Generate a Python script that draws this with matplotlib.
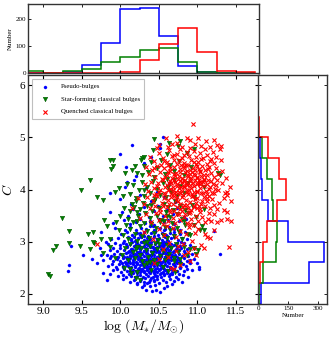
import matplotlib
matplotlib.use("Agg")
import matplotlib.pyplot as plt
import numpy as np

# fonts / tick style
plt.rcParams['font.family'] = ['Liberation Serif', 'DejaVu Serif']
plt.rcParams['mathtext.fontset'] = 'cm'
plt.rcParams['xtick.direction'] = 'in'
plt.rcParams['ytick.direction'] = 'in'

labels = ['Pseudo-bulges', 'Star-forming classical bulges', 'Quenched classical bulges']

# scatter points (log M*, C)
pseudo_pts = [
    # y < 2.3
    (10.28,2.12),(10.33,2.07),(10.39,2.14),(10.41,2.05),(10.46,2.06),(10.52,2.04),(10.56,2.11),(10.31,2.16),
    (10.22,2.18),(10.45,2.17),(10.61,2.15),(10.67,2.19),
    (10.12,2.22),(10.18,2.26),(10.21,2.21),(10.27,2.28),(10.3,2.23),(10.35,2.2),(10.38,2.27),(10.43,2.24),
    (10.48,2.29),(10.5,2.21),(10.55,2.26),(10.59,2.23),(10.64,2.28),(10.7,2.25),(10.8,2.22),(9.82,2.27),
    (10.04,2.29),(10.4,2.3),(10.25,2.25),(10.75,2.29),
    # 2.3 - 2.4
    (9.86,2.37),(9.97,2.33),(10.03,2.36),(10.07,2.31),(10.11,2.38),(10.14,2.34),(10.19,2.32),(10.22,2.39),
    (10.26,2.35),(10.29,2.31),(10.33,2.37),(10.36,2.33),(10.39,2.39),(10.42,2.32),(10.45,2.36),(10.48,2.34),
    (10.51,2.38),(10.53,2.31),(10.57,2.35),(10.6,2.39),(10.63,2.33),(10.67,2.37),(10.72,2.32),(10.76,2.38),
    (10.81,2.35),(10.88,2.32),(10.16,2.4),(10.44,2.4),
    # 2.4 - 2.5
    (9.32,2.43),(9.9,2.46),(9.96,2.48),(10.01,2.42),(10.05,2.47),(10.09,2.44),(10.12,2.49),(10.15,2.41),
    (10.17,2.46),(10.2,2.43),(10.23,2.48),(10.26,2.42),(10.28,2.47),(10.31,2.44),(10.34,2.49),(10.37,2.41),
    (10.4,2.46),(10.42,2.43),(10.45,2.48),(10.47,2.42),(10.5,2.45),(10.53,2.49),(10.55,2.41),(10.58,2.46),
    (10.61,2.43),(10.64,2.48),(10.67,2.42),(10.7,2.47),(10.74,2.44),(10.78,2.49),(10.83,2.43),(10.87,2.47),
    (10.93,2.45),(11.02,2.48),(10.35,2.45),(10.56,2.47),(9.77,2.4),
    # 2.5 - 2.6
    (9.33,2.55),(9.84,2.53),(9.89,2.57),(9.94,2.51),(9.98,2.56),(10.02,2.59),(10.04,2.52),(10.07,2.57),
    (10.1,2.54),(10.12,2.59),(10.14,2.51),(10.17,2.56),(10.19,2.53),(10.21,2.58),(10.24,2.5),(10.26,2.55),
    (10.28,2.59),(10.3,2.52),(10.33,2.57),(10.35,2.54),(10.37,2.59),(10.39,2.51),(10.41,2.56),(10.44,2.53),
    (10.46,2.58),(10.48,2.5),(10.51,2.55),(10.53,2.59),(10.55,2.52),(10.58,2.57),(10.6,2.54),(10.63,2.59),
    (10.65,2.51),(10.68,2.56),(10.71,2.53),(10.74,2.58),(10.77,2.52),(10.81,2.56),(10.85,2.53),(10.9,2.58),
    (11.0,2.58),(11.02,2.51),(9.7,2.58),
    # 2.6 - 2.7
    (9.63,2.66),(9.78,2.64),(9.86,2.68),(9.91,2.62),(9.96,2.67),(9.99,2.63),(10.03,2.69),(10.06,2.61),
    (10.08,2.66),(10.11,2.62),(10.13,2.68),(10.16,2.64),(10.18,2.69),(10.2,2.61),(10.23,2.66),(10.25,2.63),
    (10.27,2.68),(10.29,2.6),(10.32,2.65),(10.34,2.69),(10.36,2.62),(10.38,2.67),(10.4,2.64),(10.43,2.69),
    (10.45,2.61),(10.47,2.66),(10.49,2.63),(10.52,2.68),(10.54,2.6),(10.56,2.65),(10.59,2.69),(10.61,2.62),
    (10.63,2.67),(10.66,2.64),(10.69,2.69),(10.72,2.61),(10.75,2.66),(10.78,2.63),(10.82,2.68),(10.86,2.62),
    (10.9,2.64),(10.95,2.67),(10.42,2.6),(10.58,2.7),
    # 2.7 - 2.8
    (9.52,2.74),(9.75,2.74),(9.82,2.75),(9.88,2.72),(9.92,2.77),(9.97,2.71),(10.0,2.76),(10.04,2.73),
    (10.07,2.78),(10.09,2.7),(10.12,2.75),(10.14,2.79),(10.17,2.72),(10.19,2.77),(10.21,2.74),(10.24,2.79),
    (10.26,2.71),(10.28,2.76),(10.31,2.73),(10.33,2.78),(10.35,2.7),(10.37,2.75),(10.4,2.72),(10.42,2.77),
    (10.44,2.74),(10.46,2.79),(10.48,2.71),(10.51,2.76),(10.53,2.73),(10.55,2.78),(10.58,2.7),(10.6,2.75),
    (10.62,2.72),(10.65,2.77),(10.67,2.74),(10.7,2.79),(10.73,2.71),(10.76,2.76),(10.8,2.73),(10.84,2.78),
    (10.88,2.72),(10.93,2.76),(11.29,2.77),(10.5,2.8),
    # 2.8 - 2.9
    (9.86,2.84),(9.91,2.88),(9.96,2.82),(10.0,2.87),(10.05,2.83),(10.08,2.89),(10.11,2.81),(10.14,2.86),
    (10.17,2.83),(10.2,2.88),(10.22,2.8),(10.25,2.85),(10.28,2.89),(10.3,2.82),(10.33,2.87),(10.35,2.84),
    (10.38,2.89),(10.4,2.81),(10.43,2.86),(10.45,2.83),(10.48,2.88),(10.5,2.8),(10.53,2.85),(10.55,2.89),
    (10.58,2.82),(10.6,2.87),(10.63,2.84),(10.66,2.89),(10.69,2.81),(10.72,2.86),(10.75,2.83),(10.79,2.88),
    (10.83,2.82),(10.87,2.86),(10.95,2.87),(10.27,2.9),(10.47,2.9),(10.62,2.8),(9.73,2.88),
    # 2.9 - 3.0
    (9.36,2.92),(9.84,2.95),(9.93,2.98),(9.99,2.93),(10.04,2.97),(10.08,2.91),(10.12,2.96),(10.15,2.99),
    (10.18,2.92),(10.21,2.97),(10.24,2.94),(10.27,2.99),(10.3,2.91),(10.33,2.96),(10.36,2.93),(10.39,2.98),
    (10.42,2.9),(10.45,2.95),(10.48,2.99),(10.51,2.92),(10.54,2.97),(10.57,2.94),(10.6,2.99),(10.63,2.91),
    (10.66,2.96),(10.7,2.93),(10.74,2.98),(10.78,2.92),(10.82,2.97),(10.9,2.93),(10.56,3.0),(10.36,3.0),
    # 3.0 - 3.1
    (9.88,3.04),(9.97,3.07),(10.05,3.02),(10.1,3.08),(10.14,3.05),(10.19,3.01),(10.23,3.06),(10.27,3.09),
    (10.31,3.03),(10.35,3.07),(10.39,3.04),(10.43,3.09),(10.47,3.01),(10.5,3.06),(10.54,3.03),(10.58,3.08),
    (10.62,3.02),(10.66,3.06),(10.7,3.09),(10.75,3.03),(10.8,3.07),(10.86,3.04),(10.44,3.1),(10.6,3.1),
    (9.81,3.0),
    # 3.1 - 3.3
    (9.75,3.18),(10.01,3.14),(10.08,3.19),(10.15,3.12),(10.21,3.17),(10.26,3.13),(10.31,3.18),(10.36,3.11),
    (10.4,3.16),(10.45,3.19),(10.49,3.13),(10.54,3.17),(10.59,3.12),(10.64,3.16),(10.7,3.19),(10.77,3.14),
    (10.84,3.18),(11.22,3.2),
    (9.93,3.26),(10.06,3.23),(10.13,3.28),(10.2,3.22),(10.27,3.27),(10.33,3.24),(10.39,3.29),(10.45,3.21),
    (10.51,3.26),(10.57,3.23),(10.63,3.28),(10.7,3.25),(10.78,3.22),(10.42,3.3),
    # 3.3 - 3.7
    (9.9,3.36),(10.05,3.41),(10.12,3.33),(10.2,3.38),(10.26,3.44),(10.32,3.35),(10.38,3.4),(10.44,3.32),
    (10.5,3.43),(10.56,3.37),(10.62,3.42),(10.69,3.34),(10.76,3.39),(10.85,3.44),
    (9.86,3.56),(10.02,3.56),(10.1,3.49),(10.17,3.62),(10.24,3.52),(10.3,3.66),(10.37,3.47),(10.43,3.58),
    (10.49,3.68),(10.55,3.5),(10.61,3.6),(10.68,3.53),(10.74,3.65),(10.82,3.48),
    # sparse upper part
    (9.87,3.94),(9.99,3.81),(10.06,4.05),(10.09,4.15),(10.18,4.18),(10.2,4.26),(10.14,3.72),(10.25,3.9),
    (10.33,4.02),(10.4,3.78),(10.48,3.95),(10.56,3.85),(10.63,4.12),(10.71,3.76),
    (10.07,4.44),(9.99,4.68),(10.15,4.85),(10.52,4.79),(10.52,4.88),(10.55,5.0),(10.3,4.5),(10.4,4.62),
    # dense core
    (10.17,2.615),(10.23,2.705),(10.29,2.545),(10.31,2.825),(10.36,2.475),(10.38,2.735),(10.41,2.905),(10.43,2.585),
    (10.47,2.695),(10.49,2.825),(10.52,2.475),(10.54,2.935),(10.57,2.625),(10.61,2.755),(10.64,2.515),(10.2,2.955),
    (10.25,2.465),(10.27,2.785),(10.33,2.635),(10.39,2.525),(10.44,2.815),(10.46,2.345),(10.51,2.615),(10.56,2.385),
    (10.59,2.865),(10.66,2.695),(10.12,2.725),(10.15,2.855),(10.08,2.595),(10.22,2.345),(10.3,2.415),(10.34,3.015),
    (10.4,2.985),(10.48,3.045),(10.53,2.725),(10.6,2.455),(10.63,2.935),(10.68,2.805),(10.7,2.575),(10.73,2.905),
    (10.19,2.505),(10.24,2.885),(10.28,2.995),(10.35,2.775),(10.42,2.665),(10.45,2.435),(10.5,2.915),(10.55,2.535),
    (10.58,2.785),(10.62,2.605),(10.65,2.375),(10.71,2.745),(10.76,2.845),(10.1,2.805),(10.13,2.435),(10.05,2.705),
    (10.18,3.085),(10.26,3.155),(10.32,2.295),(10.37,2.215),(10.43,2.255),(10.55,3.145),(10.47,2.555),(10.41,2.765),
    (10.36,2.925),(10.29,2.655),(10.21,2.575),(10.16,2.765),(10.5,2.715),(10.57,2.965),(10.64,2.845),(10.67,2.465),
    (10.39,2.615),(10.33,2.505),(10.25,2.795),(10.46,2.875),(10.53,2.405),(10.61,3.035),(10.74,2.645),(10.79,2.985),
    (10.07,2.945),(10.03,2.525),(10.14,3.035),(10.31,3.115),(10.44,3.215),(10.58,3.245),(10.69,3.125),(10.35,2.565),
    (10.48,2.645),(10.27,2.425),
]

sf_pts = [
    # low tail
    (9.06,2.37),(9.08,2.33),(10.14,2.39),(10.22,2.41),(10.05,2.5),(10.12,2.48),(10.3,2.55),(10.4,2.45),
    (10.55,2.52),(10.62,2.44),(10.71,2.42),(10.78,2.57),(10.35,2.58),(10.48,2.56),(10.2,2.3),(10.26,2.27),
    # 2.6 - 3.0
    (9.13,2.83),(9.17,2.92),(9.33,2.97),(9.47,2.91),(9.61,2.85),(9.66,2.98),(9.78,2.78),(9.86,2.9),
    (9.93,2.68),(10.02,2.75),(10.06,2.88),(10.1,2.64),(10.13,2.95),(10.16,2.79),(10.19,2.68),(10.22,2.9),
    (10.25,2.74),(10.28,2.62),(10.3,2.97),(10.33,2.83),(10.36,2.7),(10.39,2.92),(10.41,2.78),(10.44,2.65),
    (10.47,2.86),(10.5,2.96),(10.52,2.72),(10.55,2.81),(10.58,2.64),(10.61,2.93),(10.63,2.77),(10.66,2.87),
    (10.69,2.69),(10.72,2.95),(10.75,2.8),(10.78,2.66),(10.82,2.9),(10.86,2.74),(10.91,2.85),(10.96,2.87),
    (10.98,2.76),(11.01,2.84),(10.27,2.87),(10.45,2.98),(10.6,2.7),(10.38,2.61),(10.7,2.62),(10.2,2.85),
    # 3.0 - 3.4
    (9.33,3.2),(9.58,3.14),(9.64,3.19),(9.64,3.0),(9.75,3.05),(9.87,3.04),(9.94,3.37),(9.98,3.22),
    (9.83,3.3),(10.03,3.12),(10.07,3.31),(10.1,3.05),(10.13,3.24),(10.16,3.38),(10.19,3.15),(10.22,3.02),
    (10.25,3.29),(10.28,3.11),(10.31,3.36),(10.34,3.2),(10.37,3.07),(10.4,3.33),(10.43,3.16),(10.46,3.26),
    (10.49,3.03),(10.52,3.38),(10.55,3.13),(10.58,3.28),(10.61,3.06),(10.64,3.22),(10.67,3.35),(10.7,3.1),
    (10.73,3.27),(10.76,3.18),(10.8,3.04),(10.84,3.32),(10.88,3.14),(10.9,3.12),(10.96,3.32),(11.03,3.22),
    (11.06,3.29),(11.08,3.22),(10.35,3.0),(10.57,3.4),(10.21,3.4),(10.82,3.39),
    # 3.4 - 3.8
    (9.24,3.46),(9.79,3.41),(9.78,3.8),(10.0,3.5),(10.05,3.65),(10.1,3.44),(10.12,3.58),(10.15,3.72),
    (10.18,3.66),(10.2,3.78),(10.23,3.49),(10.26,3.62),(10.29,3.75),(10.32,3.54),(10.35,3.68),(10.38,3.45),
    (10.41,3.59),(10.44,3.77),(10.47,3.5),(10.5,3.64),(10.53,3.42),(10.56,3.73),(10.59,3.56),(10.62,3.67),
    (10.65,3.47),(10.68,3.6),(10.71,3.78),(10.74,3.52),(10.77,3.69),(10.8,3.44),(10.84,3.61),(10.88,3.55),
    (10.93,3.71),(10.98,3.48),(11.09,3.62),(10.4,3.7),(10.6,3.5),(10.22,3.56),
    # 3.8 - 4.2
    (9.49,4.0),(9.61,4.19),(9.7,3.85),(9.98,4.03),(10.09,4.1),(9.93,3.95),(10.04,3.88),(10.12,3.92),
    (10.16,4.08),(10.2,3.84),(10.24,3.99),(10.28,4.15),(10.31,3.87),(10.35,4.04),(10.38,3.93),(10.42,4.17),
    (10.45,3.82),(10.48,4.01),(10.52,3.9),(10.55,4.12),(10.59,3.85),(10.62,4.05),(10.66,3.96),(10.7,4.18),
    (10.74,3.88),(10.78,4.07),(10.83,3.94),(10.88,4.13),(10.95,3.86),(11.08,4.05),(10.6,4.2),(10.3,4.0),
    # 4.2 - 5.0
    (9.88,4.39),(9.91,4.46),(10.06,4.31),(10.15,4.38),(10.19,4.46),(10.22,4.31),(10.28,4.28),(10.28,4.6),
    (10.31,4.45),(10.36,4.34),(10.4,4.52),(10.44,4.25),(10.48,4.41),(10.53,4.56),(10.58,4.3),(10.64,4.47),
    (10.7,4.36),(10.76,4.54),(10.83,4.27),(10.92,4.44),(11.29,4.27),(11.27,4.32),
    (9.87,4.57),(9.9,4.57),(10.27,4.56),(10.31,4.62),(10.42,4.75),(10.43,4.97),(10.63,4.9),(10.75,4.84),
    (10.78,4.94),(10.6,4.68),(10.86,4.7),(10.95,4.78),
]

quenched_pts = [
    # top
    (10.94,5.26),(10.73,5.02),(10.86,4.99),(10.9,4.95),(11.01,4.99),(11.11,4.93),(11.22,4.95),(11.25,4.86),
    (10.59,4.99),(10.67,4.88),(10.73,4.9),(10.5,4.85),(10.8,4.82),(10.97,4.87),(11.05,4.84),(11.16,4.81),
    (11.31,4.83),(10.62,4.82),
    # 4.5 - 4.8
    (10.38,4.62),(10.44,4.55),(10.5,4.71),(10.55,4.6),(10.6,4.52),(10.63,4.75),(10.67,4.64),(10.7,4.56),
    (10.73,4.69),(10.77,4.78),(10.8,4.6),(10.83,4.51),(10.86,4.72),(10.89,4.65),(10.92,4.57),(10.95,4.74),
    (10.98,4.62),(11.01,4.53),(11.04,4.7),(11.07,4.6),(11.1,4.77),(11.13,4.66),(11.16,4.55),(11.2,4.72),
    (11.24,4.62),(11.29,4.78),(11.31,4.56),(10.47,4.8),(10.9,4.8),(11.18,4.58),
    # 4.2 - 4.5
    (10.33,4.44),(10.37,4.3),(10.41,4.38),(10.45,4.24),(10.48,4.46),(10.51,4.33),(10.54,4.21),(10.57,4.41),
    (10.6,4.28),(10.62,4.48),(10.65,4.36),(10.67,4.23),(10.7,4.43),(10.72,4.31),(10.74,4.49),(10.76,4.26),
    (10.78,4.39),(10.8,4.22),(10.82,4.45),(10.84,4.34),(10.86,4.27),(10.88,4.47),(10.9,4.37),(10.92,4.23),
    (10.94,4.42),(10.96,4.3),(10.98,4.49),(11.0,4.25),(11.02,4.4),(11.04,4.33),(11.06,4.46),(11.08,4.21),
    (11.1,4.37),(11.12,4.28),(11.15,4.44),(11.18,4.32),(11.21,4.24),(11.24,4.41),(11.27,4.29),(11.32,4.36),
    (11.37,4.22),(10.69,4.3),(10.83,4.41),(10.97,4.38),(10.58,4.25),(10.75,4.2),(11.13,4.49),(10.91,4.3),
    (10.53,4.47),(10.64,4.42),(10.79,4.47),(11.0,4.45),(11.05,4.26),(10.86,4.35),(10.44,4.42),
    # 3.9 - 4.2
    (10.32,4.1),(10.36,3.97),(10.4,4.15),(10.43,4.02),(10.46,3.92),(10.49,4.12),(10.52,4.0),(10.55,4.18),
    (10.57,3.94),(10.6,4.08),(10.62,3.99),(10.64,4.16),(10.66,3.91),(10.68,4.05),(10.7,4.19),(10.72,3.96),
    (10.74,4.11),(10.76,4.02),(10.78,3.93),(10.8,4.14),(10.82,4.04),(10.84,4.19),(10.86,3.95),(10.87,4.09),
    (10.89,4.0),(10.91,4.16),(10.93,3.92),(10.95,4.07),(10.97,4.18),(10.99,3.98),(11.01,4.12),(11.03,4.03),
    (11.05,3.93),(11.07,4.15),(11.09,4.06),(11.11,3.97),(11.13,4.11),(11.15,4.01),(11.18,4.17),(11.21,3.94),
    (11.24,4.08),(11.27,3.99),(11.32,4.13),(11.38,3.95),(11.42,4.05),(10.73,4.06),(10.85,4.12),(10.92,4.03),
    (11.02,4.18),(10.65,4.01),(10.8,3.98),(10.96,3.96),(11.08,4.19),(10.58,4.05),(10.78,4.17),(11.17,4.04),
    (10.88,3.92),(10.69,3.94),(10.99,4.1),(10.83,4.07),(11.12,3.91),(10.5,3.95),(10.63,4.12),(10.94,4.13),
    (11.2,4.1),(10.76,3.95),(11.04,4.1),(10.9,4.08),(10.71,4.14),(10.47,4.07),
    # 3.6 - 3.9
    (10.15,3.65),(10.23,3.83),(10.3,3.72),(10.34,3.86),(10.38,3.64),(10.42,3.78),(10.45,3.69),(10.48,3.87),
    (10.51,3.62),(10.54,3.75),(10.57,3.84),(10.6,3.67),(10.62,3.79),(10.65,3.61),(10.68,3.73),(10.7,3.88),
    (10.73,3.66),(10.75,3.77),(10.78,3.63),(10.8,3.85),(10.83,3.71),(10.85,3.8),(10.88,3.64),(10.9,3.76),
    (10.93,3.87),(10.95,3.68),(10.98,3.74),(11.0,3.83),(11.03,3.62),(11.05,3.72),(11.08,3.86),(11.1,3.69),
    (11.13,3.78),(11.16,3.65),(11.19,3.81),(11.22,3.7),(11.25,3.63),(11.28,3.75),(11.36,3.94),(11.39,3.89),
    (11.35,3.83),(11.43,3.78),(10.87,3.7),(10.97,3.82),(10.72,3.8),(11.06,3.77),(10.81,3.66),(10.66,3.86),
    (11.15,3.88),(10.92,3.61),(10.55,3.68),(11.02,3.69),(10.77,3.72),(10.99,3.64),(10.44,3.89),
    # 3.3 - 3.6
    (10.25,3.45),(10.33,3.52),(10.4,3.38),(10.46,3.55),(10.5,3.42),(10.55,3.33),(10.58,3.5),(10.62,3.39),
    (10.65,3.57),(10.68,3.45),(10.71,3.35),(10.74,3.53),(10.77,3.41),(10.8,3.58),(10.83,3.47),(10.86,3.36),
    (10.89,3.54),(10.92,3.43),(10.95,3.31),(10.98,3.5),(11.01,3.39),(11.04,3.56),(11.1,3.38),(11.14,3.44),
    (11.18,3.39),(11.26,3.38),(11.3,3.41),(11.34,3.6),(11.39,3.57),(11.39,3.43),(11.43,3.39),(11.22,3.52),
    (10.7,3.58),(10.9,3.33),(11.06,3.47),(10.52,3.57),(10.84,3.52),(11.15,3.55),
    # below 3.3
    (10.3,3.18),(10.42,3.05),(10.5,3.24),(10.57,3.12),(10.63,2.98),(10.68,3.27),(10.72,3.08),(10.77,3.2),
    (10.81,2.95),(10.85,3.14),(10.89,3.28),(10.93,3.02),(10.97,3.17),(11.01,3.25),(11.05,2.93),(11.1,3.14),
    (11.12,3.09),(11.16,3.06),(11.08,2.87),(10.75,2.92),(11.21,3.22),(10.6,3.29),
    (9.7,2.95),(10.96,2.87),(10.98,2.74),(10.82,2.74),(10.88,2.8),(10.69,2.48),(10.66,2.5),(10.44,2.58),
    (10.55,2.85),(10.62,2.7),(10.72,2.82),(10.9,2.62),(11.41,2.9),(10.5,2.66),(10.78,2.55),
    # dense core
    (10.71,4.255),(10.77,4.345),(10.83,4.155),(10.88,4.265),(10.93,4.345),(10.99,4.215),(11.04,4.145),(10.81,3.895),
    (10.87,3.985),(10.94,3.875),(11.0,3.945),(10.68,3.985),(10.74,3.865),(10.79,4.045),(10.91,4.205),(10.97,4.285),
    (11.03,4.355),(11.09,4.285),(11.14,4.175),(10.62,4.345),(10.66,4.125),(10.85,4.465),(10.95,4.525),(11.05,4.585),
    (10.76,4.575),(10.69,4.665),(10.82,4.655),(11.12,3.835),(11.19,3.935),(11.07,3.925),(10.9,3.575),(10.96,3.655),
    (10.76,3.535),(10.63,3.725),(10.58,3.905),(11.23,4.015),(11.26,4.185),(11.14,4.395),(11.22,4.515),(10.56,4.555),
]

# marginal histograms (counts)
mass_edges = [8.75, 9.0, 9.25, 9.5, 9.75, 10.0, 10.25, 10.5, 10.75, 11.0, 11.25, 11.5, 11.75]
mass_pseudo = [0, 1, 3, 31, 112, 238, 241, 137, 25, 3, 0, 0]
mass_sf = [6, 1, 9, 14, 40, 59, 87, 91, 40, 5, 0, 0]
mass_q = [0, 0, 0, 0, 1, 5, 47, 106, 168, 78, 9, 2]

c_edges = [1.8, 2.2, 2.6, 3.0, 3.4, 3.8, 4.2, 4.6, 5.0, 5.4, 5.8, 6.2]
c_pseudo = [15, 255, 328, 147, 50, 17, 12, 8, 0, 0, 0]
c_sf = [5, 22, 88, 92, 75, 66, 44, 17, 0, 0, 0]
c_q = [0, 8, 25, 45, 95, 137, 105, 46, 3, 0, 0]

colors = ['#0000ff', '#008000', '#ff0000']

fig = plt.figure(figsize=(3.33, 3.39), dpi=100)
ax = fig.add_axes([0.0841, 0.1032, 0.6937, 0.6755])
axt = fig.add_axes([0.0841, 0.7847, 0.6937, 0.2027], sharex=ax)
axr = fig.add_axes([0.7757, 0.1032, 0.2072, 0.6755], sharey=ax)

p = np.array(pseudo_pts)
s = np.array(sf_pts)
q = np.array(quenched_pts)
ax.scatter(p[:, 0], p[:, 1], s=5, marker='o', c=colors[0], edgecolors=colors[0], linewidths=0.2, label=labels[0])
ax.scatter(s[:, 0], s[:, 1], s=10, marker='v', c=colors[1], edgecolors='#005a00', linewidths=0.4, label=labels[1])
ax.scatter(q[:, 0], q[:, 1], s=9, marker='x', c=colors[2], linewidths=0.8, label=labels[2])

ax.set_xlim(8.8, 11.8)
ax.set_ylim(1.8, 6.2)
ax.set_xticks([9.0, 9.5, 10.0, 10.5, 11.0, 11.5])
ax.set_yticks([2, 3, 4, 5, 6])
ax.set_xlabel(r'$\log\,(M_{*}/M_{\odot})$', fontsize=10, labelpad=1)
ax.set_ylabel(r'$C$', fontsize=10, labelpad=3)
ax.tick_params(top=True, right=True, labelsize=8, length=3, width=0.8, pad=2)

leg = ax.legend(loc='upper left', scatterpoints=1, fontsize=4.9, fancybox=False, borderpad=0.65,
                handlelength=2.6, handletextpad=0.97, labelspacing=1.0, borderaxespad=0.6)
leg.get_frame().set_edgecolor('#b0b0b0')
leg.get_frame().set_linewidth(0.8)

# top histogram
axt.stairs(mass_pseudo, mass_edges, color=colors[0], lw=1.1)
axt.stairs(mass_sf, mass_edges, color=colors[1], lw=1.1)
axt.stairs(mass_q, mass_edges, color=colors[2], lw=1.1)
axt.set_ylim(0, 255)
axt.set_yticks([0, 100, 200])
axt.set_ylabel('Number', fontsize=5, labelpad=2)
axt.tick_params(labelbottom=False, top=True, right=True, labelsize=5, length=2, width=0.6, pad=1.5)

# right histogram
axr.stairs(c_pseudo, c_edges, color=colors[0], lw=1.1, orientation='horizontal')
axr.stairs(c_sf, c_edges, color=colors[1], lw=1.1, orientation='horizontal')
axr.stairs(c_q, c_edges, color=colors[2], lw=1.1, orientation='horizontal')
axr.set_xlim(0, 345)
axr.set_xticks([0, 150, 300])
axr.set_xlabel('Number', fontsize=5, labelpad=1.5)
axr.tick_params(labelleft=False, top=True, right=True, labelsize=5, length=2, width=0.6, pad=1.5)

for a in (ax, axt, axr):
    for sp in a.spines.values():
        sp.set_linewidth(1.0)
        sp.set_color('#333333')

fig.savefig('out.png', dpi=100)
